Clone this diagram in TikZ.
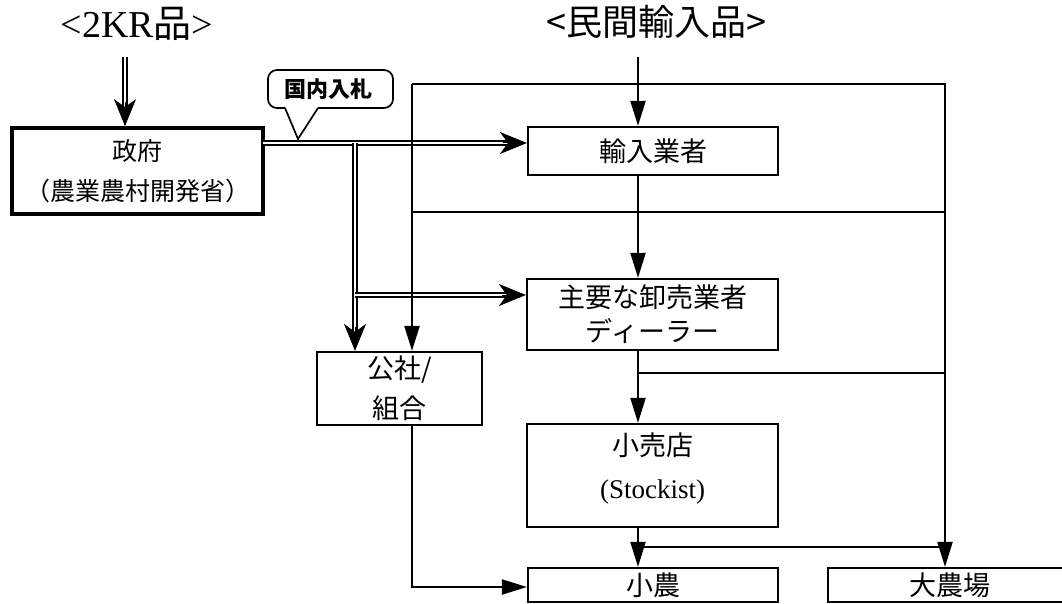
\documentclass[tikz,border=0pt]{standalone}
\usepackage{fontspec}
\setmainfont{Liberation Serif}
\newfontfamily\jp{Noto Sans CJK JP}
\usetikzlibrary{arrows.meta,calc}
\begin{document}
\begin{tikzpicture}[x=1pt,y=-1pt,
  box/.style={draw, line width=2.2pt, inner sep=0pt, align=center},
  boxfont/.style={font=\jp\fontsize{27}{#1}\selectfont},
  conn/.style={line width=2pt},
  arr/.style={conn, -{Triangle[length=25pt,width=15pt]}},
  dbl/.style={line width=1.9pt, double, double distance=2.4pt},
  dtip/.style={line width=1pt, -{Stealth[length=27pt,width=22pt,inset=8pt]}},
  title/.style={inner sep=0pt}
]
\useasboundingbox (0,0) rectangle (1062,604);
\begin{scope}
\clip (0,0) rectangle (1062,604);

% titles
\node[title, font=\fontsize{38}{44}\selectfont] (t2kr) at (137,24) {<2KR{\jp 品}>};
\node[title, font=\jp\fontsize{36}{42}\selectfont] (tmin) at (656,22) {<民間輸入品>};

% boxes
\node[box, line width=3.8pt, minimum width=251pt, minimum height=86pt, font=\jp\fontsize{25}{40}\selectfont] (gov) at (137.5,171) {政府\\（農業農村開発省）};
\node[box, minimum width=250pt, minimum height=48pt, boxfont=34] (imp) at (653,151) {輸入業者};
\node[box, minimum width=251pt, minimum height=71pt, boxfont=34] (whl) at (652.5,314.5) {主要な卸売業者\\ディーラー};
\node[box, minimum width=165pt, minimum height=73pt, boxfont=40] (kosha) at (399.5,388.5) {公社/\\組合};
\node[box, minimum width=251pt, minimum height=103pt] (ret) at (652.5,475.5) {};
\node[inner sep=0pt, align=center, font=\fontsize{27}{43}\selectfont] (rett) at ($(ret.center)+(0,-7)$) {{\jp 小売店}\\(Stockist)};
\node[box, minimum width=250pt, minimum height=34pt, boxfont=34] (small) at (653,585) {小農};
\node[box, minimum width=244pt, minimum height=34pt, boxfont=34] (large) at (950,585) {大農場};

% callout
\node[inner sep=0pt, font=\jp\bfseries\fontsize{22}{24}\selectfont] (bid) at (328,89) {国内入札};
\coordinate (tip) at (298,139);
\draw[line width=1.7pt, rounded corners=9pt] (318,108) -| (393,70) -| (268,108) -- (285,108);
\draw[line width=1.7pt] (285,108) -- (tip) -- (318,108);

% coordinates for connectors
\coordinate (g1) at (263,143);
\coordinate (d1) at (355,143);
\coordinate (d2) at (355,295);
\coordinate (tl) at (412,84);
\coordinate (tr) at (945,84);
\coordinate (ml) at (412,212);
\coordinate (mr) at (945,212);
\coordinate (ms) at (638,57);
\coordinate (b1) at (638,373);
\coordinate (b2) at (638,547);
\coordinate (k1) at (412,587);
\coordinate (k0) at (125,57);

% double connectors (2KR)
\draw[dbl] (k0) -- ($(k0 |- gov.north)+(0,-14)$);
\draw[dtip] ($(k0 |- gov.north)+(0,-24)$) -- (k0 |- gov.north);
\draw[dbl] (g1) -- ($(g1 -| imp.west)+(-14,0)$);
\draw[dtip] ($(g1 -| imp.west)+(-24,0)$) -- (g1 -| imp.west);
\draw[dbl] (d1) -- ($(d1 |- kosha.north)+(0,-14)$);
\draw[dtip] ($(d1 |- kosha.north)+(0,-24)$) -- (d1 |- kosha.north);
\draw[dbl] (d2) -- ($(d2 -| whl.west)+(-14,0)$);
\draw[dtip] ($(d2 -| whl.west)+(-24,0)$) -- (d2 -| whl.west);

% single connectors
\draw[arr] (tl) -- (tl |- kosha.north);
\draw[arr] (tl) -- (tr) -- (tr |- large.north);
\draw[conn] (ml) -- (mr);
\draw[arr] (ms) -- (ms |- imp.north);
\draw[arr] (ms |- imp.south) -- (ms |- whl.north);
\draw[arr] (ms |- whl.south) -- (ms |- ret.north);
\draw[conn] (b1) -- (b1 -| tr);
\draw[arr] (ms |- ret.south) -- (ms |- small.north);
\draw[conn] (b2) -- (b2 -| tr);
\draw[arr] (tl |- kosha.south) -- (k1) -- (k1 -| small.west);
\end{scope}
\end{tikzpicture}
\end{document}
